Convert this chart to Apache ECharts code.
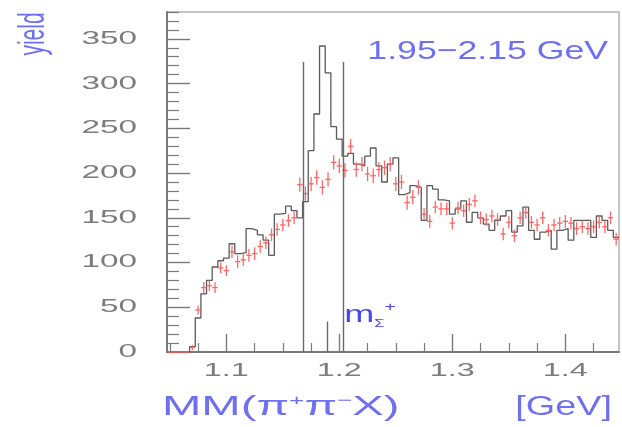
<!DOCTYPE html>
<html><head><meta charset="utf-8">
<script src="https://cdn.jsdelivr.net/npm/echarts@6/dist/echarts.min.js"></script>
<style>html,body{margin:0;padding:0;background:#fff}#c{width:622px;height:427px}</style>
</head><body><div id="c"></div>
<script>
// ---- data ----
const binLow = 1.0475;
const binWidth = 0.005;
const histValues = [
  0,0,0,0,6,38,65,80,95,102,
  105,121,110,111,138,136,131,125,108,154,
  155,163,158,150,168,225,266,342,312,252,
  238,219,222,210,208,219,228,208,190,210,
  217,176,178,186,184,147,186,182,170,169,
  154,160,169,145,156,150,143,136,147,152,
  158,134,141,162,136,126,134,136,115,136,
  138,125,147,147,147,128,152,147,136,128
];
const pointValues = [
  0,0,0,0,5,47,72,74,72,94,
  91,112,101,103,108,110,118,122,131,137,
  142,147,150,187,177,188,195,184,193,212,
  208,203,230,204,210,199,197,204,206,210,
  188,190,167,173,184,154,146,162,160,160,
  144,161,158,165,169,150,148,152,148,132,
  145,130,150,156,145,142,150,136,142,144,
  146,144,138,140,138,140,145,140,150,126
];
const pointErrors = [
  0,0,0,0,3,5,6,6,6,6,
  6,7,7,7,7,7,7,7,7,7,
  7,7,7,8,8,8,8,8,8,8,
  8,8,8,8,8,8,8,8,8,8,
  8,8,8,8,8,7,7,7,7,7,
  7,7,7,7,7,7,7,7,7,7,
  7,7,7,7,7,7,7,7,7,7,
  7,7,7,7,7,7,7,7,7,7
];
const xMajorTicks = [1.1, 1.2, 1.3, 1.4];
const xMinorTicks = [1.05, 1.075, 1.125, 1.15, 1.175, 1.225, 1.25, 1.275, 1.325, 1.35, 1.375, 1.425];
const xTickLabels = ['1.1', '1.2', '1.3', '1.4'];
const yMajorTicks = [0, 50, 100, 150, 200, 250, 300, 350];
const yMinorTicks = [10,20,30,40,60,70,80,90,110,120,130,140,160,170,180,190,210,220,230,240,260,270,280,290,310,320,330,340,360,370,380];
const yTickLabels = ['0', '50', '100', '150', '200', '250', '300', '350'];
const cutLines = [1.168, 1.2035];
const cutHeight = 324;
const mSigma = 1.1894;
const mSigmaHeight = 34;
const xRange = [1.0475, 1.4475];
const yRange = [0, 380];

// ---- chart ----
const FONT = '"Liberation Sans", Arial, sans-serif';
const chart = echarts.init(document.getElementById('c'), null, {renderer: 'canvas'});

const histData = histValues.map((v, i) => [binLow + i * binWidth, v]);
histData.push([binLow + histValues.length * binWidth, histValues[histValues.length - 1]]);
const pointData = pointValues.map((v, i) => [binLow + (i + 0.5) * binWidth, v, pointErrors[i]]);

const axisGrey = '#7a7a7a';
const option = {
  animation: false,
  backgroundColor: '#fff',
  grid: {left: 167, right: 3, top: 12, bottom: 75, show: true, borderColor: '#b4b4b4', borderWidth: 1.5, backgroundColor: 'transparent'},
  xAxis: [
    {type: 'value', min: xRange[0], max: xRange[1], position: 'bottom',
     axisLine: {show: true, lineStyle: {color: axisGrey, width: 1.8}},
     axisTick: {show: true, inside: true, length: 9, customValues: xMinorTicks, lineStyle: {color: axisGrey, width: 1.2}},
     axisLabel: {show: false}, splitLine: {show: false}},
    {type: 'value', min: xRange[0], max: xRange[1], position: 'bottom', offset: 0,
     axisLine: {show: false},
     axisTick: {show: true, inside: true, length: 18, customValues: xMajorTicks, lineStyle: {color: axisGrey, width: 1.4}},
     axisLabel: {show: false}, splitLine: {show: false}}
  ],
  yAxis: [
    {type: 'value', min: yRange[0], max: yRange[1], position: 'left',
     axisLine: {show: true, lineStyle: {color: axisGrey, width: 2}},
     axisTick: {show: true, inside: true, length: 12, customValues: yMinorTicks, lineStyle: {color: axisGrey, width: 1.2}},
     axisLabel: {show: false}, splitLine: {show: false}},
    {type: 'value', min: yRange[0], max: yRange[1], position: 'left', offset: 0,
     axisLine: {show: false},
     axisTick: {show: true, inside: true, length: 23, customValues: yMajorTicks, lineStyle: {color: axisGrey, width: 1.4}},
     axisLabel: {show: false}, splitLine: {show: false}}
  ],
  series: [
    {type: 'line', step: 'end', data: histData, symbol: 'none', xAxisIndex: 0, yAxisIndex: 0,
     lineStyle: {color: '#5a5a5a', width: 1.3}, z: 3,
     markLine: {silent: true, symbol: 'none', label: {show: false},
       lineStyle: {color: '#6a6a6a', width: 1.4, type: 'solid'},
       data: [
         [{coord: [cutLines[0], 0]}, {coord: [cutLines[0], cutHeight]}],
         [{coord: [cutLines[1], 0]}, {coord: [cutLines[1], cutHeight]}],
         [{coord: [mSigma, 0]}, {coord: [mSigma, mSigmaHeight]}]
       ]}},
    {type: 'custom', data: pointData, xAxisIndex: 0, yAxisIndex: 0, z: 4,
     renderItem: function (params, api) {
       const x = api.value(0), y = api.value(1), e = api.value(2);
       const hw = binWidth * 0.48;
       const l = api.coord([x - hw, y]), r = api.coord([x + hw, y]);
       const t = api.coord([x, y + e]), b = api.coord([x, y - e]);
       const st = {stroke: '#ff6666', lineWidth: 1.3};
       const ch = [{type: 'line', shape: {x1: l[0], y1: l[1], x2: r[0], y2: r[1]}, style: st}];
       if (e > 0) ch.push({type: 'line', shape: {x1: t[0], y1: t[1], x2: b[0], y2: b[1]}, style: st});
       return {type: 'group', children: ch};
     }}
  ]
};
chart.setOption(option);

// ---- text (stretched to match the reference's wide lettering) ----
const blue = '#6f6ff2';
const labelGrey = '#7c7c7c';
function txt(x, y, text, size, sx, color, align, extra) {
  return Object.assign({type: 'text', x: x, y: y, scaleX: sx, silent: true,
    style: {text: text, fontSize: size, fontFamily: FONT, fill: color,
      align: align, textAlign: align, verticalAlign: 'middle', textVerticalAlign: 'middle'}}, extra || {});
}
const gfx = [];
yMajorTicks.forEach((v, i) => {
  const p = chart.convertToPixel({gridIndex: 0}, [xRange[0], v]);
  gfx.push(txt(p[0] - 30, p[1], yTickLabels[i], 18, 1.85, labelGrey, 'right'));
});
xMajorTicks.forEach((v, i) => {
  const p = chart.convertToPixel({gridIndex: 0}, [v, yRange[0]]);
  gfx.push(txt(p[0], p[1] + 19, xTickLabels[i], 19, 1.7, labelGrey, 'center'));
});
// y axis title
gfx.push({type: 'text', x: 34, y: 34, rotation: Math.PI / 2, scaleY: 1.8, silent: true,
  style: {text: 'yield', fontSize: 21, fontFamily: FONT, fill: blue, align: 'center', textAlign: 'center', verticalAlign: 'middle', textVerticalAlign: 'middle'}});
// x axis title
gfx.push({type: 'text', x: 162, y: 408, scaleX: 1.75, silent: true,
  style: {text: '{a|MM(π}{s|+}{a|π}{s|−}{a|X)}', fontFamily: FONT, fill: blue, align: 'left', textAlign: 'left', verticalAlign: 'middle', textVerticalAlign: 'middle',
    rich: {a: {fontSize: 27, fontFamily: FONT, fill: blue, lineHeight: 30},
           s: {fontSize: 15, fontFamily: FONT, fill: blue, verticalAlign: 'top', lineHeight: 30}}}});
gfx.push(txt(612, 408, '[GeV]', 27, 1.4, blue, 'right'));
// energy range label
gfx.push(txt(608, 52, '1.95−2.15 GeV', 26, 1.37, blue, 'right'));
// m_Sigma+ label
const mp = chart.convertToPixel({gridIndex: 0}, [cutLines[1], mSigmaHeight]);
gfx.push({type: 'text', x: mp[0] + 1, y: 315, scaleX: 1.5, silent: true,
  style: {text: '{m|m}{s|Σ}{p|+}', fontFamily: FONT, fill: '#4848f0', align: 'left', textAlign: 'left', verticalAlign: 'middle', textVerticalAlign: 'middle',
    rich: {m: {fontSize: 24, fontFamily: FONT, fill: '#4848f0', lineHeight: 28, verticalAlign: 'middle'},
           s: {fontSize: 11, fontFamily: FONT, fill: '#4848f0', lineHeight: 28, verticalAlign: 'bottom'},
           p: {fontSize: 13, fontFamily: FONT, fill: '#4848f0', lineHeight: 28, verticalAlign: 'top'}}}});
chart.setOption({graphic: {elements: gfx}});
</script></body></html>
